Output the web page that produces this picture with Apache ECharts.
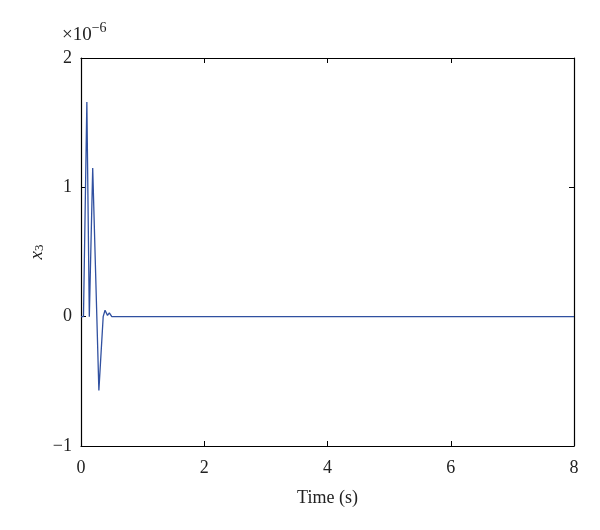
<!DOCTYPE html>
<html><head><meta charset="utf-8">
<script src="https://cdn.jsdelivr.net/npm/echarts@6/dist/echarts.min.js"></script>
<style>html,body{margin:0;padding:0;background:#fff}#c{width:600px;height:530px}</style>
</head><body><div id="c"></div>
<script>
// Time (s) and x3 values (in units of 1e-6)
const time = [0, 0.04, 0.095, 0.135, 0.19, 0.29, 0.36, 0.39, 0.43, 0.46, 0.5, 1, 2, 3, 4, 5, 6, 7, 8];
const x3 = [0, 0, 1.66, 0, 1.15, -0.57, 0, 0.05, 0.01, 0.03, 0, 0, 0, 0, 0, 0, 0, 0, 0];
const xTicks = [0, 2, 4, 6, 8];
const yTicks = [-1, 0, 1, 2];

const font = "'Liberation Serif', 'DejaVu Serif', serif";
const chart = echarts.init(document.getElementById('c'), null, {renderer: 'canvas'});
const axisCommon = {
  axisLine: {show: true, onZero: false, lineStyle: {color: '#000', width: 1.2}},
  axisTick: {show: true, inside: true, length: 5, lineStyle: {color: '#000'}},
  splitLine: {show: false}
};
chart.setOption({
  animation: false,
  backgroundColor: '#fff',
  grid: {left: 81, right: 26, top: 58, bottom: 84},
  xAxis: [
    Object.assign({type: 'value', min: xTicks[0], max: xTicks[xTicks.length-1], interval: 2, position: 'bottom',
      axisLabel: {color: '#222', fontFamily: font, fontSize: 18, margin: 13},
      name: 'Time (s)', nameLocation: 'middle', nameGap: 43,
      nameTextStyle: {color: '#222', fontFamily: font, fontSize: 18}}, axisCommon),
    Object.assign({type: 'value', min: 0, max: 8, interval: 2, position: 'top', axisLabel: {show: false}}, axisCommon)
  ],
  yAxis: [
    Object.assign({type: 'value', min: yTicks[0], max: yTicks[yTicks.length-1], interval: 1, position: 'left',
      axisLabel: {color: '#222', fontFamily: font, fontSize: 18, margin: 9,
        formatter: v => v < 0 ? '\u2212' + Math.abs(v) : String(v)}}, axisCommon),
    Object.assign({type: 'value', min: -1, max: 2, interval: 1, position: 'right', axisLabel: {show: false}}, axisCommon)
  ],
  graphic: [
    {type: 'text', left: 62, top: 21, style: {
      text: '{a|\u00d710}{b|\u22126}', rich: {
        a: {fontFamily: font, fontSize: 19, fill: '#222', verticalAlign: 'bottom', lineHeight: 24},
        b: {fontFamily: font, fontSize: 14, fill: '#222', verticalAlign: 'top', lineHeight: 24, padding: [0,0,12,0]}
      }}},
    {type: 'text', x: 35, y: 252, rotation: Math.PI/2, style: {
      text: '{a|x}{b|3}', align: 'center', verticalAlign: 'middle', rich: {
        a: {fontFamily: font, fontSize: 19, fontStyle: 'italic', fill: '#222', verticalAlign: 'bottom', lineHeight: 22},
        b: {fontFamily: font, fontSize: 13, fill: '#222', verticalAlign: 'bottom', lineHeight: 22, padding: [7,0,0,0]}
      }}}
  ],
  series: [{
    type: 'line', showSymbol: false, symbol: 'none',
    data: time.map((t, i) => [t, x3[i]]),
    lineStyle: {color: '#3050a0', width: 1.3},
    z: 1
  }]
});
</script></body></html>
